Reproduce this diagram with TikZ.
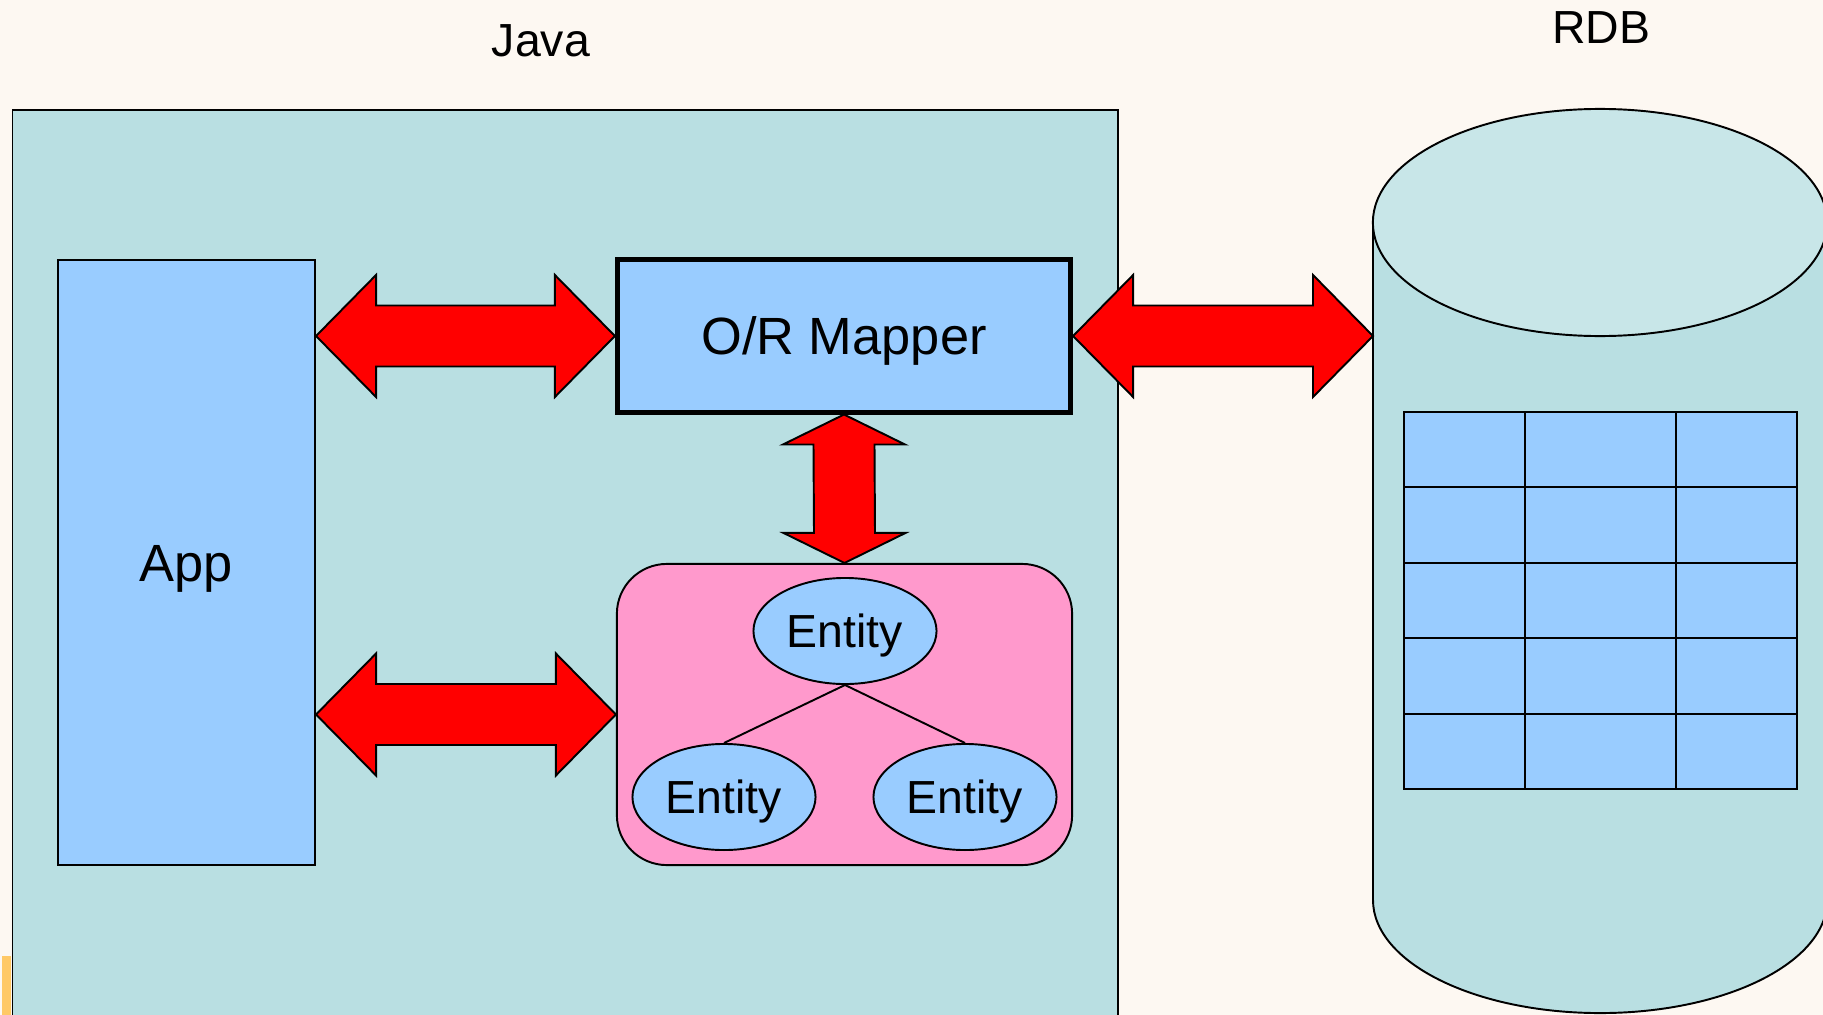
\documentclass[tikz,border=0pt]{standalone}
\usepackage{fontspec}
\setmainfont{Liberation Sans}
\usetikzlibrary{calc,shapes.geometric}

\definecolor{paper}{HTML}{FDF8F2}
\definecolor{javabg}{HTML}{B9DFE2}
\definecolor{dbtop}{HTML}{C8E6E8}
\definecolor{lightblue}{HTML}{99CCFF}
\definecolor{pinkbg}{HTML}{FF99CC}
\definecolor{stripe}{HTML}{FFC966}

\newcommand\bigtxt{\fontsize{14.9pt}{18pt}\selectfont}
\newcommand\smalltxt{\fontsize{13.2pt}{16pt}\selectfont}

\tikzset{
  thinline/.style={draw=black, line width=0.55pt},
  box/.style={thinline, rectangle, inner sep=0pt},
  bigcaps/.style={font=\bigtxt, text height=10.67pt, text depth=0pt},
  smallcaps/.style={font=\smalltxt, text height=9.45pt, text depth=0pt},
  entitynode/.style={thinline, ellipse, fill=lightblue, inner sep=0pt,
    minimum width=1.83cm, minimum height=1.06cm, smallcaps},
  blockarrow/.style={fill=red, draw=black, line width=0.55pt, line join=miter},
  title/.style={anchor=base, inner sep=0pt, font=\smalltxt},
}

% horizontal double block arrow between two points
\newcommand\hdouble[2]{%
  \draw[blockarrow] (#1) -- ($(#1)+(60,-61)$) -- ($(#1)+(60,-30.5)$)
    -- ($(#2)+(-60,-30.5)$) -- ($(#2)+(-60,-61)$) -- (#2)
    -- ($(#2)+(-60,61)$) -- ($(#2)+(-60,30.5)$)
    -- ($(#1)+(60,30.5)$) -- ($(#1)+(60,61)$) -- cycle;}
% vertical double block arrow between two points (first one on top)
\newcommand\vdouble[2]{%
  \draw[blockarrow] (#1) -- ($(#1)+(61,30)$) -- ($(#1)+(30.5,30)$)
    -- ($(#2)+(30.5,-30)$) -- ($(#2)+(61,-30)$) -- (#2)
    -- ($(#2)+(-61,-30)$) -- ($(#2)+(-30.5,-30)$)
    -- ($(#1)+(-30.5,30)$) -- ($(#1)+(-61,30)$) -- cycle;}

\begin{document}
\begin{tikzpicture}[x=0.01cm, y=-0.01cm]
  \useasboundingbox (0,0) rectangle (1823,1015);
  \clip (0,0) rectangle (1823,1015);
  \fill[paper] (0,0) rectangle (1823,1015);

  % Java side
  \node[box, fill=javabg, anchor=north west, minimum width=11.045cm,
        minimum height=9.4cm] (java) at (11.5,109) {};
  \fill[stripe] (2,956) rectangle (10.5,1015);
  \node[title] (javalbl) at (541,57) {Java};

  \node[box, fill=lightblue, minimum width=2.57cm, minimum height=6.05cm,
        bigcaps] (app) at (186.5,562.5) {App};
  \node[box, fill=lightblue, line width=1.4pt, minimum width=4.53cm,
        minimum height=1.52cm, bigcaps] (orm) at (844,336) {O/R Mapper};
  \node[box, fill=pinkbg, rounded corners=0.5cm, minimum width=4.55cm,
        minimum height=3.01cm] (ent) at (844.5,714.5) {};

  \node[entitynode] (e0) at (845,631) {Entity};
  \node[entitynode] (e1) at (724,797) {Entity};
  \node[entitynode] (e2) at (965,797) {Entity};
  \draw[thinline] (e0.south) -- (e1.north);
  \draw[thinline] (e0.south) -- (e2.north);

  % database cylinder
  \node[title] (rdblbl) at (1601,44) {RDB};
  \filldraw[fill=javabg, thinline] (1373,222.5) -- (1373,900)
    arc[start angle=180, end angle=360, x radius=2.27cm, y radius=1.13cm]
    -- (1827,222.5) -- cycle;
  \filldraw[fill=dbtop, thinline] (1600,222.5) ellipse [x radius=2.27cm, y radius=1.135cm];
  \coordinate (dbl) at (1373,336);

  % table inside the database
  \fill[lightblue] (1404,412) rectangle (1797,789);
  \draw[thinline] (1404,412) rectangle (1797,789);
  \foreach \x in {1525,1676} \draw[thinline] (\x,412) -- (\x,789);
  \foreach \y in {487,563,638,714} \draw[thinline] (1404,\y) -- (1797,\y);

  % block arrows
  \coordinate (a1s) at (app.east |- orm.west);
  \coordinate (a2s) at (app.east |- ent.west);
  \hdouble{a1s}{orm.west}
  \hdouble{a2s}{ent.west}
  \hdouble{orm.east}{dbl}
  \vdouble{orm.south}{ent.north}
\end{tikzpicture}
\end{document}
